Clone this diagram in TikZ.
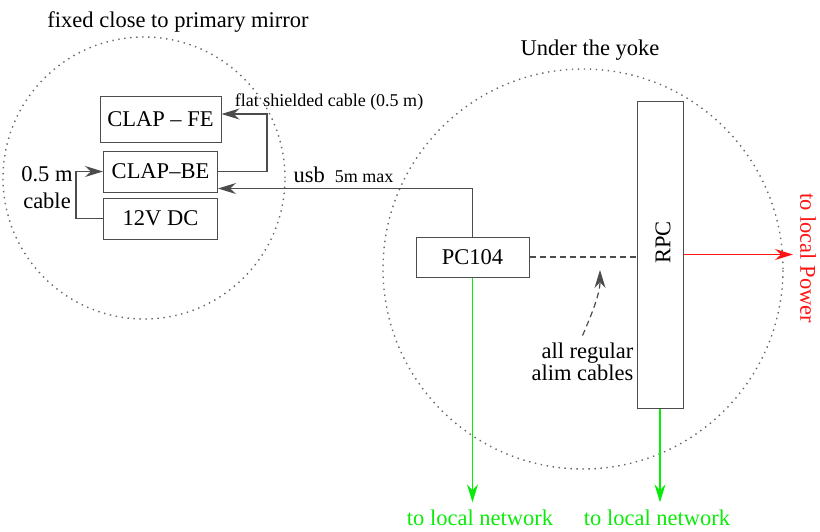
\documentclass[tikz,border=0pt]{standalone}
\usepackage{fontspec}
\setmainfont{Liberation Serif}
\usetikzlibrary{arrows.meta,positioning}
\definecolor{wire}{gray}{0.3}
\definecolor{ring}{gray}{0.4}
\definecolor{netgreen}{RGB}{10,235,10}
\definecolor{pwrred}{RGB}{255,20,20}
\tikzset{pin/.style={wire, line width=0.6pt, -{Stealth[length=9pt, width=5.5pt]}},
  blk/.style={draw=black!70, line width=0.5pt},
  zone/.style={ring, line width=0.7pt, dash pattern=on 0.7pt off 2.3pt},
  sm/.style={font=\fontsize{9}{11}\selectfont}}

\begin{document}
\begin{tikzpicture}[x=0.5pt, y=-0.5pt, font=\fontsize{11.25}{13.5}\selectfont]
  \useasboundingbox (0,0) rectangle (820,531);
  % the two zones
  \draw[zone] (144,178) circle[radius=70.5pt];
  \draw[zone] (583,269) circle[radius=100pt];
  \node[anchor=base] (zl) at (178,27) {fixed close to primary mirror};
  \node[anchor=base] (zr) at (590,55) {Under the yoke};
  % near the mirror
  \node[blk, minimum width=60.5pt, minimum height=23pt] (fe) at (160.5,119) {CLAP -- FE};
  \node[blk, minimum width=57pt, minimum height=20.5pt, below=4pt of fe] (be) {CLAP--BE};
  \node[blk, minimum width=57pt, minimum height=20.5pt, below=2.5pt of be] (dc) {12V DC};
  \node[align=center] (len) at (47,188) {0.5 m\\cable};
  \draw[pin] (dc.west) -- ++(-27,0) |- (be.west);
  \draw[pin] (be.east) -- ++(49,0) |- ([yshift=2.5pt]fe.east);
  \node[sm, anchor=base] (flat) at (329,106) {flat shielded cable (0.5 m)};
  % under the yoke
  \node[blk, minimum width=56.5pt, minimum height=20pt] (pc) at (472.5,257) {PC104};
  \node[blk, minimum width=23pt, minimum height=153.5pt] (rpc) at (660,254.5) {};
  \node[rotate=90] (rpcl) at ([xshift=1.5pt, yshift=6pt]rpc.center) {RPC};
  \draw[pin] (pc.north) |- ([yshift=2pt]be.south east);
  \node[anchor=base] (usb) at (343.5,182) {usb\hspace{5pt}{\fontsize{9}{11}\selectfont 5m max}};
  \draw[wire, line width=0.6pt, dash pattern=on 3pt off 2pt] (pc.east) -- (pc.east -| rpc.west);
  \node[align=right, font=\fontsize{11.25}{11}\selectfont, anchor=east] (alim) at (640.5,361.5) {all regular\\alim cables};
  \coordinate (hint) at (600,270);
  \draw[pin, dash pattern=on 3pt off 2pt] (alim.north) .. controls (590,318) and (600,295) .. (hint);
  % outgoing lines
  \node[pwrred, rotate=-90, anchor=south] (pwr) at (793,258) {to local Power};
  \draw[pin, pwrred] (rpc.east) -- (rpc.east -| pwr.south);
  \node[netgreen, anchor=base] (net1) at (480,525) {to local network};
  \node[netgreen, anchor=base] (net2) at (657,525) {to local network};
  \draw[pin, netgreen] (pc.south) -- (pc.south |- net1.north);
  \draw[pin, netgreen] (rpc.south) -- (rpc.south |- net2.north);
\end{tikzpicture}
\end{document}
